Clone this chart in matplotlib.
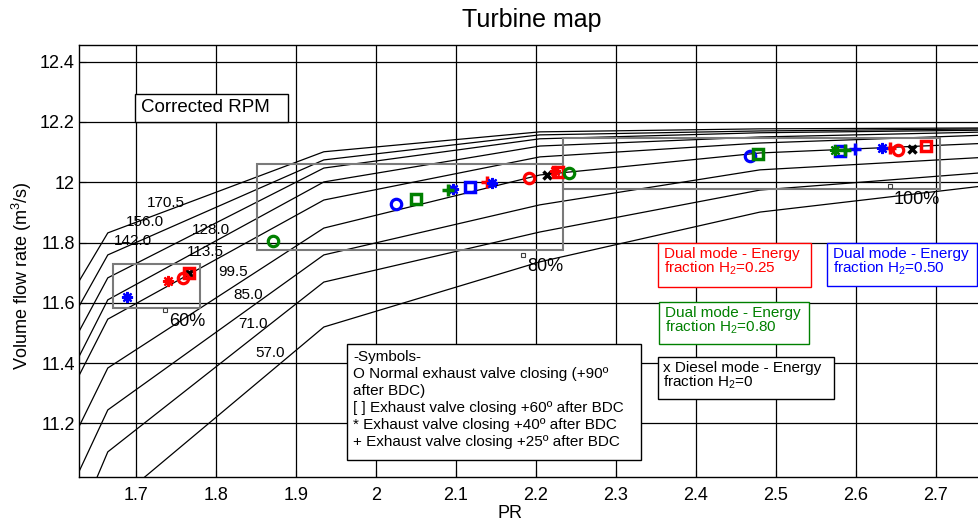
import numpy as np
import matplotlib
matplotlib.use("Agg")
import matplotlib.pyplot as plt
from matplotlib.patches import Rectangle

plt.rcParams['font.family'] = ['Liberation Sans', 'DejaVu Sans']
plt.rcParams['mathtext.fontset'] = 'custom'
plt.rcParams['mathtext.rm'] = 'Liberation Sans'
plt.rcParams['mathtext.it'] = 'Liberation Sans'

# speed lines (corrected RPM), PR vertices shared by all lines
pr_pts = [1.63, 1.665, 1.935, 2.205, 2.48, 2.77]
speeds = ['170.5', '156.0', '142.0', '128.0', '113.5', '99.5', '85.0', '71.0', '57.0']
flow_lines = [
    [11.676, 11.832, 12.101, 12.167, 12.177, 12.180],
    [11.593, 11.759, 12.074, 12.157, 12.170, 12.177],
    [11.510, 11.683, 12.047, 12.144, 12.164, 12.173],
    [11.427, 11.610, 12.001, 12.120, 12.150, 12.167],
    [11.364, 11.546, 11.941, 12.084, 12.130, 12.157],
    [11.195, 11.384, 11.848, 12.024, 12.097, 12.130],
    [11.046, 11.245, 11.759, 11.925, 12.041, 12.084],
    [10.887, 11.106, 11.669, 11.835, 11.974, 12.034],
    [10.843, 10.920, 11.520, 11.736, 11.901, 11.991],
]
label_x = [1.737, 1.711, 1.697, 1.794, 1.787, 1.822, 1.841, 1.846, 1.868]
label_y = [11.930, 11.869, 11.805, 11.842, 11.770, 11.703, 11.626, 11.530, 11.433]

# operating points: (PR, flow) per fuel mode and valve timing
red_o = ([1.759, 2.191, 2.653], [11.684, 12.014, 12.108])
red_s = ([1.767, 2.227, 2.688], [11.698, 12.034, 12.119])
red_star = ([1.740, 2.224], [11.672, 12.036])
red_plus = ([2.139, 2.642], [12.001, 12.112])
blue_o = ([2.025, 2.468], [11.929, 12.087])
blue_s = ([2.118, 2.580], [11.985, 12.104])
blue_star = ([1.689, 2.096, 2.145, 2.633], [11.618, 11.976, 11.999, 12.112])
blue_plus = ([2.599], [12.109])
green_o = ([1.872, 2.241], [11.805, 12.029])
green_s = ([2.050, 2.477], [11.946, 12.093])
green_star = ([2.574], [12.106])
green_plus = ([2.090, 2.586], [11.973, 12.108])
black_x = ([1.766, 2.214, 2.670], [11.700, 12.025, 12.109])

# load regions
load_names = ['60%', '80%', '100%']
load_box_x = [(1.671, 1.780), (1.852, 2.234), (2.234, 2.705)]
load_box_y = [(11.583, 11.728), (11.774, 12.062), (11.979, 12.145)]
load_mark_x = [1.737, 2.184, 2.642]
load_mark_y = [11.575, 11.758, 11.987]
load_text_x = [1.764, 2.212, 2.676]
load_text_y = [11.537, 11.719, 11.944]

W, H = 979, 524
fig = plt.figure(figsize=(W / 100, H / 100), dpi=100)
ax = fig.add_axes([79 / W, 1 - 477 / H, (984 - 79) / W, (477 - 45) / H])

for fl in flow_lines:
    ax.plot(pr_pts, fl, color='black', lw=0.9, zorder=2)
for i in range(len(speeds)):
    ax.text(label_x[i], label_y[i], speeds[i], fontsize=11, ha='center', va='center', zorder=3)

for i in range(3):
    x0, x1 = load_box_x[i]
    y0, y1 = load_box_y[i]
    ax.add_patch(Rectangle((x0, y0), x1 - x0, y1 - y0, fill=False, ec='#7a7a7a', lw=1.5, zorder=3))
    ax.plot(load_mark_x[i], load_mark_y[i], 's', ms=3, mfc='white', mec='#404040', mew=0.8, zorder=4)
    ax.text(load_text_x[i], load_text_y[i], load_names[i], fontsize=13, ha='center', va='center', zorder=4)

ast = (8, 2, 0)
def pts(d, m, c, ms, mew):
    ax.plot(d[0], d[1], ls='none', marker=m, ms=ms, mfc='none', mec=c, mew=mew, zorder=5)

pts(black_x, 'x', 'black', 6, 2.5)
pts(red_o, 'o', 'red', 7.5, 2.3)
pts(red_s, 's', 'red', 6.5, 2.5)
pts(red_star, ast, 'red', 8, 1.6)
pts(red_plus, '+', 'red', 9, 2.5)
pts(blue_o, 'o', 'blue', 7.5, 2.3)
pts(blue_s, 's', 'blue', 6.5, 2.5)
pts(blue_star, ast, 'blue', 8, 1.6)
pts(blue_plus, '+', 'blue', 9, 2.5)
pts(green_o, 'o', 'green', 7.5, 2.3)
pts(green_s, 's', 'green', 6.5, 2.5)
pts(green_star, ast, 'green', 8, 1.6)
pts(green_plus, '+', 'green', 9, 2.5)

ax.set_xlim(1.629, 2.760)
ax.set_ylim(11.0226, 12.455)
xt = np.arange(1.7, 2.75, 0.1)
yt = np.arange(11.2, 12.45, 0.2)
ax.set_xticks(xt)
ax.set_yticks(yt)
ax.set_xticklabels(['%g' % round(v, 1) for v in xt])
ax.set_yticklabels(['%g' % round(v, 1) for v in yt])
ax.tick_params(direction='in', labelsize=13, length=5, width=0.8)
ax.tick_params(axis='x', pad=7)
ax.tick_params(axis='y', pad=3)
ax.grid(True, color='black', lw=0.9)
ax.set_axisbelow(True)
for s in ax.spines.values():
    s.set_linewidth(1.0)

fig.text(532 / W, 1 - 20 / H, 'Turbine map', fontsize=18, ha='center', va='center')
fig.text(510 / W, 1 - 513 / H, 'PR', fontsize=13, ha='center', va='center')
fig.text(22 / W, 1 - 276 / H, 'Volume flow rate (m$^3$/s)', fontsize=13, ha='center', va='center', rotation=90)


def box(x0, y0, x1, y1, ec):
    fig.add_artist(Rectangle((x0 / W, 1 - y1 / H), (x1 - x0) / W, (y1 - y0) / H,
                             transform=fig.transFigure, fc='white', ec=ec, lw=1.0, zorder=10))


def txt(x, y, s, c='black', size=11):
    fig.text(x / W, 1 - y / H, s, color=c, fontsize=size, ha='left', va='center', zorder=11)


box(135, 94, 288, 122, 'black')
txt(141, 107, 'Corrected RPM', size=13.5)

box(658, 243, 811, 287, 'red')
txt(664, 254, 'Dual mode - Energy', 'red')
txt(664, 268, 'fraction H$_2$=0.25', 'red')

box(827, 243, 977, 286, 'blue')
txt(833, 254, 'Dual mode - Energy', 'blue')
txt(833, 268, 'fraction H$_2$=0.50', 'blue')

box(659, 302, 809, 344, 'green')
txt(665, 313, 'Dual mode - Energy', 'green')
txt(665, 327, 'fraction H$_2$=0.80', 'green')

box(658, 357, 834, 399, 'black')
txt(663, 368, 'x Diesel mode - Energy')
txt(663, 382, 'fraction H$_2$=0')

box(347, 344, 641, 460, 'black')
sym_lines = ['-Symbols-', 'O Normal exhaust valve closing (+90º', 'after BDC)',
             '[ ] Exhaust valve closing +60º after BDC', '* Exhaust valve closing +40º after BDC',
             '+ Exhaust valve closing +25º after BDC']
sym_y = [357, 374, 391, 408, 425, 442]
for s, yy in zip(sym_lines, sym_y):
    txt(353, yy, s)

fig.savefig('out.png', dpi=100)
